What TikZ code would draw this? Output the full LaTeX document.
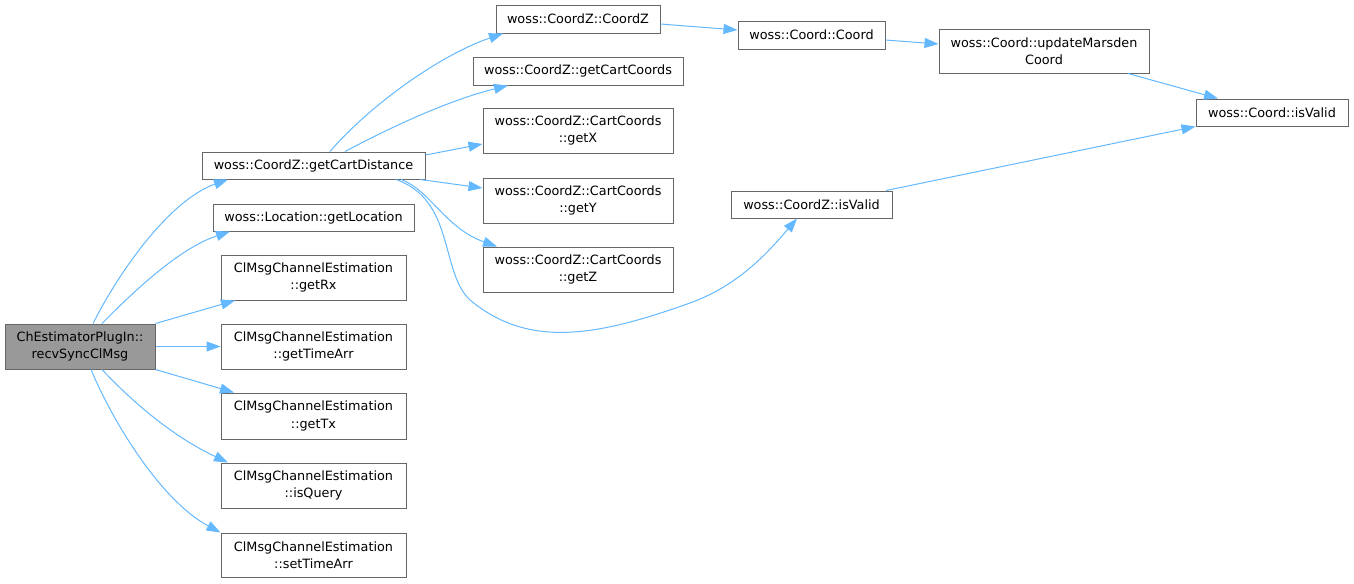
\documentclass[tikz,border=0pt]{standalone}
\usepackage{fontspec}
\setmainfont{DejaVu Sans}
\usetikzlibrary{arrows.meta}
\definecolor{edgec}{HTML}{63B8FF}
\definecolor{boxc}{HTML}{666666}
\definecolor{rootc}{HTML}{999999}
\tikzset{
  box/.style={draw=boxc, line width=0.75pt, fill=white, rectangle, inner sep=0pt, align=center,
    font=\fontsize{9.6}{13}\selectfont, text=black},
  rootbox/.style={box, fill=rootc},
  call/.style={draw=edgec, line width=0.75pt, -{Triangle[length=10.5pt,width=7.5pt]}}
}
\newcommand{\bx}[7][box]{\node[#1, minimum width={(#5-#3)*0.75pt}, minimum height={(#6-#4)*0.75pt}] (#2) at ({(#3+#5)/2},{(#4+#6)/2}) {#7};}
\begin{document}
\begin{tikzpicture}[x=0.75pt,y=-0.75pt]
\useasboundingbox (0,0) rectangle (1354,583);
\bx[rootbox]{root}{5}{324}{155}{369}{ChEstimatorPlugIn::\\recvSyncClMsg}
\bx{gcd}{202}{152}{425}{179}{woss::CoordZ::getCartDistance}
\bx{gloc}{213}{204}{414}{231}{woss::Location::getLocation}
\bx{grx}{221}{255}{406}{300}{ClMsgChannelEstimation\\::getRx}
\bx{gta}{221}{324}{406}{369}{ClMsgChannelEstimation\\::getTimeArr}
\bx{gtx}{221}{393}{406}{439}{ClMsgChannelEstimation\\::getTx}
\bx{isq}{221}{463}{406}{508}{ClMsgChannelEstimation\\::isQuery}
\bx{sta}{221}{533}{406}{577}{ClMsgChannelEstimation\\::setTimeArr}
\bx{czc}{496}{5}{660}{33}{woss::CoordZ::CoordZ}
\bx{gcc}{473}{57}{683}{85}{woss::CoordZ::getCartCoords}
\bx{gx}{483}{108}{673}{153}{woss::CoordZ::CartCoords\\::getX}
\bx{gy}{483}{178}{673}{223}{woss::CoordZ::CartCoords\\::getY}
\bx{gz}{483}{247}{673}{292}{woss::CoordZ::CartCoords\\::getZ}
\bx{cc}{738}{21}{885}{49}{woss::Coord::Coord}
\bx{czv}{731}{191}{892}{218}{woss::CoordZ::isValid}
\bx{umc}{939}{29}{1149}{73}{woss::Coord::updateMarsden\\Coord}
\bx{cv}{1196}{99}{1348}{126}{woss::Coord::isValid}

% from root
\draw[call] (root.north -| 93,0) .. controls (120,270) and (170,200) .. (gcd.south -| 228,0);
\draw[call] (root.north -| 102,0) .. controls (135,290) and (180,248) .. (gloc.south -| 230,0);
\draw[call] (root.north east) -- (grx.south -| 235,0);
\draw[call] (root.east) -- (gta.west);
\draw[call] (root.south east) -- (gtx.north -| 234,0);
\draw[call] (root.south -| 102,0) .. controls (140,410) and (180,440) .. (isq.north -| 228,0);
\draw[call] (root.south -| 91,0) .. controls (112,420) and (160,500) .. (sta.north west);

% from getCartDistance
\draw[call] (gcd.north -| 330,0) .. controls (370,105) and (440,55) .. (czc.south -| 503,0);
\draw[call] (gcd.north -| 345,0) .. controls (395,125) and (450,100) .. (gcc.south -| 508,0);
\draw[call] (gcd.east |- 0,155) -- (gx.west |- 0,144);
\draw[call] (gcd.south -| 420,0) -- (gy.west |- 0,188);
\draw[call] (gcd.south -| 401,0) .. controls (430,190) and (445,228) .. (gz.north -| 497,0);
\draw[call] (gcd.south -| 396,0) .. controls (455,200) and (440,272) .. (470,300)
   .. controls (530,350) and (600,335) .. (690,303)
   .. controls (740,285) and (770,250) .. (czv.south -| 797,0);

\draw[call] (czc.east |- 0,24) -- (cc.west |- 0,30);
\draw[call] (cc.east |- 0,40) -- (umc.west |- 0,44);
\draw[call] (umc.south -| 1128,0) -- (cv.north -| 1218,0);
\draw[call] (czv.north -| 886,0) -- (cv.south west);
\end{tikzpicture}
\end{document}
